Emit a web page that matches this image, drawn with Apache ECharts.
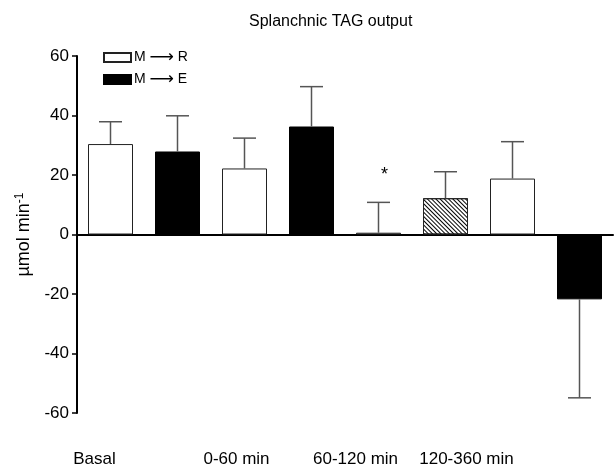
<!DOCTYPE html>
<html>
<head>
<meta charset="utf-8">
<script src="https://cdn.jsdelivr.net/npm/echarts@6/dist/echarts.min.js"></script>
<style>html,body{margin:0;padding:0;background:#fff}#main{width:615px;height:467px}</style>
</head>
<body>
<div id="main"></div>
<script>
var categories = ['Basal', '0-60 min', '60-120 min', '120-360 min'];
var rMean = [30.4, 22.2, 0.6, 18.8];
var rErr = [7.5, 10.2, 10.2, 12.4];
var eMean = [27.9, 36.3, 12.2, -21.8];
var eErr = [12.0, 13.4, 8.9, 33.1];
var rMark = ['', '', '*', ''];
var eHatched = [false, false, true, false];
var labelShift = [32, 16, 46, 92];

var font = 'Liberation Sans, Arial, sans-serif';
var myChart = echarts.init(document.getElementById('main'));

// two slots per category: R then E
var slots = [], slotR = [], slotE = [], errData = [];
categories.forEach(function (c, i) {
    slots.push(c + '|R', c + '|E');
    slotR.push(rMean[i], '-');
    if (eHatched[i]) {
        slotE.push('-', {
            value: eMean[i],
            itemStyle: {
                color: '#fff', borderColor: '#222', borderWidth: 1,
                decal: {
                    symbol: 'rect', symbolSize: 1,
                    dashArrayX: [1, 0], dashArrayY: [1, 2],
                    rotation: Math.PI / 4, color: '#000'
                }
            }
        });
    } else {
        slotE.push('-', eMean[i]);
    }
    errData.push([2 * i, rMean[i], rErr[i], rMark[i]]);
    errData.push([2 * i + 1, eMean[i], eErr[i], '']);
});

var rich = {};
labelShift.forEach(function (s, i) {
    rich['s' + i] = {padding: [0, s, 0, 0], fontSize: 17, fontFamily: font, color: '#000'};
});

option = {
    backgroundColor: '#fff',
    animation: false,
    title: {
        text: 'Splanchnic TAG output',
        left: 244,
        top: 9,
        textStyle: {fontSize: 16, fontWeight: 'normal', color: '#000', fontFamily: font}
    },
    legend: {
        left: 103,
        top: 49,
        padding: 0,
        orient: 'vertical',
        itemWidth: 27,
        itemHeight: 9,
        itemGap: 5,
        icon: 'rect',
        data: ['M \u27F6 R', 'M \u27F6 E'],
        formatter: function (name) {
            var p = name.split(' \u27F6 ');
            return p[0] + ' {ar|\u27F6} ' + p[1];
        },
        textStyle: {
            fontSize: 14, color: '#000', fontFamily: font, padding: [0, 0, 0, -2],
            rich: {ar: {fontSize: 17, color: '#000', fontFamily: 'DejaVu Sans'}}
        }
    },
    grid: {left: 77, right: 2, top: 56, bottom: 54, outerBoundsMode: 'none'},
    xAxis: [{
        type: 'category',
        data: slots,
        axisLine: {onZero: true, lineStyle: {color: '#000', width: 2}},
        axisTick: {show: false},
        axisLabel: {show: false}
    }, {
        type: 'category',
        data: slots,
        position: 'bottom',
        axisLine: {show: false, onZero: false},
        axisTick: {show: false},
        axisLabel: {
            interval: 0,
            margin: 38,
            formatter: function (v, idx) {
                if (idx % 2) return '';
                return '{s' + (idx / 2) + '|' + v.split('|')[0] + '}';
            },
            rich: rich
        }
    }],
    yAxis: {
        type: 'value',
        min: -60,
        max: 60,
        interval: 20,
        name: '{a|\u00B5mol min}{b|-1}',
        nameLocation: 'middle',
        nameGap: 36,
        nameTextStyle: {
            rich: {
                a: {fontSize: 18, fontFamily: font, color: '#000'},
                b: {fontSize: 12, fontFamily: font, color: '#000', verticalAlign: 'top', padding: [0, 0, 9, 0]}
            }
        },
        axisLine: {show: true, lineStyle: {color: '#000', width: 2}},
        axisTick: {show: true, length: 5, lineStyle: {color: '#000', width: 1.5}},
        axisLabel: {fontSize: 17, color: '#000', fontFamily: font, margin: 8},
        splitLine: {show: false}
    },
    series: [{
        name: 'M \u27F6 R',
        type: 'bar',
        data: slotR,
        barWidth: 45,
        barGap: '-100%',
        itemStyle: {color: '#fff', borderColor: '#222', borderWidth: 1},
        z: 2
    }, {
        name: 'M \u27F6 E',
        type: 'bar',
        data: slotE,
        barWidth: 45,
        barGap: '-100%',
        itemStyle: {color: '#000', borderColor: '#000', borderWidth: 1},
        z: 2
    }, {
        name: 'err',
        type: 'custom',
        data: errData,
        z: 3,
        renderItem: function (params, api) {
            var x = api.value(0), m = api.value(1), e = api.value(2);
            var tip = m >= 0 ? m + e : m - e;
            var p0 = api.coord([x, m]);
            var p1 = api.coord([x, tip]);
            var half = 11.5;
            var children = [{
                type: 'line',
                shape: {x1: p0[0], y1: p0[1], x2: p1[0], y2: p1[1]},
                style: {stroke: '#555', lineWidth: 1.5}
            }, {
                type: 'line',
                shape: {x1: p1[0] - half, y1: p1[1], x2: p1[0] + half, y2: p1[1]},
                style: {stroke: '#555', lineWidth: 1.5}
            }];
            var mark = errData[params.dataIndex][3];
            if (mark) {
                children.push({
                    type: 'text',
                    x: p1[0] + 6,
                    y: p1[1] - 27,
                    style: {text: mark, fontSize: 18, fill: '#000', align: 'center', verticalAlign: 'middle', fontFamily: font}
                });
            }
            return {type: 'group', children: children};
        }
    }]
};
myChart.setOption(option);
</script>
</body>
</html>
